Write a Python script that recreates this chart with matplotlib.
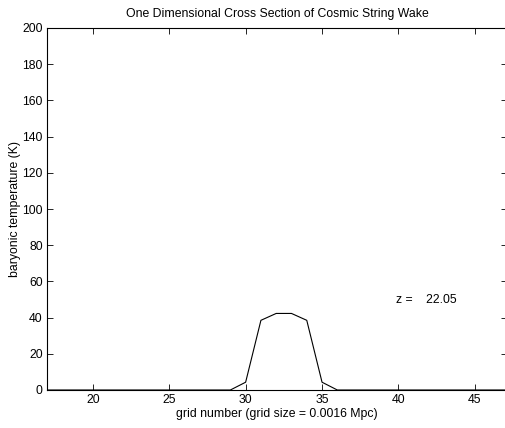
import matplotlib
matplotlib.use("Agg")
import matplotlib.pyplot as plt

grid = [17, 18, 19, 20, 21, 22, 23, 24, 25, 26, 27, 28, 29, 30, 31, 32, 33, 34, 35, 36,
        37, 38, 39, 40, 41, 42, 43, 44, 45, 46, 47]
temp = [0, 0, 0, 0, 0, 0, 0, 0, 0, 0, 0, 0, 0, 4.3, 38.5, 42.3, 42.3, 38.5, 4.3, 0,
        0, 0, 0, 0, 0, 0, 0, 0, 0, 0, 0]
xticks = [20, 25, 30, 35, 40, 45]
yticks = [0, 20, 40, 60, 80, 100, 120, 140, 160, 180, 200]

plt.rcParams['font.family'] = ['Liberation Sans', 'DejaVu Sans']
fig = plt.figure(figsize=(5.05, 4.28), dpi=100)
ax = fig.add_axes([47/505, 38/428, 460/505, 362/428])
ax.plot(grid, temp, color='black', lw=0.8)
ax.set_xlim(17, 17 + 460/15.28)
ax.set_ylim(0, 200)
ax.set_xticks(xticks)
ax.set_yticks(yticks)
ax.tick_params(direction='in', top=True, right=True, labelsize=8.8, length=4.5, width=0.6, pad=3)
for s in ax.spines.values():
    s.set_linewidth(0.8)
ax.set_title('One Dimensional Cross Section of Cosmic String Wake', fontsize=8.8, pad=8)
ax.set_xlabel('grid number (grid size = 0.0016 Mpc)', fontsize=8.8, labelpad=1)
ax.set_ylabel('baryonic temperature (K)', fontsize=8.8, labelpad=1)
ax.text(39.85, 48, 'z =    22.05', fontsize=8.8)
fig.savefig('out.png', dpi=100)
